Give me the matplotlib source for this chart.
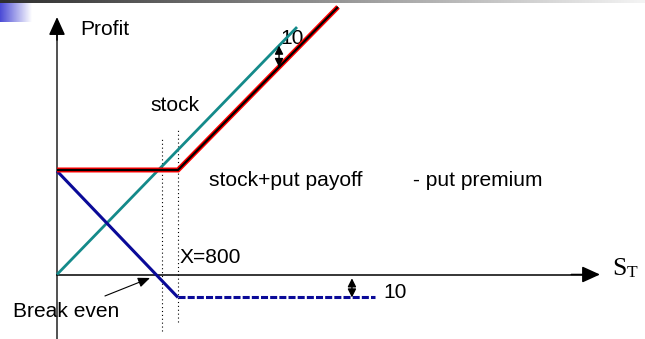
import matplotlib
matplotlib.use('Agg')
import matplotlib.pyplot as plt
import numpy as np
from matplotlib.colors import LinearSegmentedColormap

# ---- Data (schematic units, strike X = 800) ----
strike = 800
breakeven = 694
stock_S = [0, 1587]
stock_profit = [0, 1636]
protective_S = [0, 800, 1858]
protective_profit = [691, 691, 1769]
put_S = [0, 800]
put_profit = [684, -152]
put_flat_S = [800, 2102]
put_flat_profit = [-152, -152]
premium_label = "10"
premium_arrow_S = 1468
floor_arrow_S = 1950

labels = {
    "profit": "Profit",
    "stock": "stock",
    "combo": "stock+put payoff",
    "premium": "- put premium",
    "strike": "X=800",
    "breakeven": "Break even",
}

W, H = 645, 339
fig = plt.figure(figsize=(W / 100, H / 100), dpi=100)
deco = fig.add_axes([0, 0, 1, 1])
deco.set_xlim(0, W)
deco.set_ylim(H, 0)
deco.axis('off')

ax = fig.add_axes([0, 0, 1, 1], zorder=2)
ax.patch.set_alpha(0)
ax.axis('off')
k = 121 / 800
ox, oy = 57, 274.5
ax.set_xlim(-ox / k, (W - ox) / k)
ax.set_ylim(-(H - oy) / k, oy / k)

# header decoration
grad = np.linspace(0, 1, 256)[None, :]
deco.imshow(grad, cmap=LinearSegmentedColormap.from_list('g', ['#2e2e2e', '#f4f4f4']),
            extent=(0, W, 3.5, 0), aspect='auto', origin='upper')
deco.imshow(grad, cmap=LinearSegmentedColormap.from_list('b', ['#4a4ad6', '#ffffff']),
            extent=(0, 32, 22, 3.5), aspect='auto', origin='upper')
deco.set_xlim(0, W)
deco.set_ylim(H, 0)

ymin, ymax = ax.get_ylim()
# axes
ax.plot([0, 0], [ymin, 1650], color='#222222', lw=1.1, zorder=3)
ax.annotate('', xy=(0, 1702), xytext=(0, 1550),
            arrowprops=dict(arrowstyle='-|>,head_length=0.55,head_width=0.25', mutation_scale=20,
                            color='black', lw=1.1, shrinkA=0, shrinkB=0), zorder=3)
ax.plot([0, 3500], [0, 0], color='black', lw=1.1, zorder=3)
ax.annotate('', xy=(3590, 0), xytext=(3400, 0),
            arrowprops=dict(arrowstyle='-|>,head_length=0.55,head_width=0.25', mutation_scale=20,
                            color='black', lw=1.1, shrinkA=0, shrinkB=0), zorder=3)

# dotted verticals
ax.plot([breakeven, breakeven], [-374, 902], color='black', lw=0.8, ls=(0, (1, 2.5)), zorder=2)
ax.plot([strike, strike], [-314, 969], color='black', lw=0.8, ls=(0, (1, 2.5)), zorder=2)

# lines
ax.plot(stock_S, stock_profit, color='#148a8a', lw=2.0, zorder=4, solid_capstyle='butt')
ax.plot(put_S, put_profit, color='#0a0a98', lw=2.2, zorder=4, solid_capstyle='butt')
ax.plot(put_flat_S, put_flat_profit, color='#0a0a98', lw=2.2, ls=(0, (2.3, 0.7)), zorder=4)
ax.plot(protective_S, protective_profit, color='#ff0000', lw=3.6, zorder=5,
        solid_joinstyle='miter', solid_capstyle='butt')
ax.plot(protective_S, protective_profit, color='black', lw=1.6, zorder=6,
        solid_joinstyle='miter', solid_capstyle='butt')

# premium arrows
top_hi = np.interp(premium_arrow_S, stock_S, stock_profit)
top_lo = np.interp(premium_arrow_S, protective_S, protective_profit)
ax.annotate('', xy=(premium_arrow_S, top_hi), xytext=(premium_arrow_S, top_lo),
            arrowprops=dict(arrowstyle='<|-|>,head_length=0.5,head_width=0.25', mutation_scale=10,
                            color='black', lw=1, shrinkA=0, shrinkB=0), zorder=7)
ax.annotate('', xy=(floor_arrow_S, -25), xytext=(floor_arrow_S, put_flat_profit[0]),
            arrowprops=dict(arrowstyle='<|-|>,head_length=0.5,head_width=0.25', mutation_scale=10,
                            color='black', lw=1, shrinkA=0, shrinkB=0), zorder=7)
# break-even pointer
ax.annotate('', xy=(615, -23), xytext=(317, -142),
            arrowprops=dict(arrowstyle='-|>,head_length=0.6,head_width=0.25', mutation_scale=12,
                            color='black', lw=0.8, shrinkA=0, shrinkB=0), zorder=7)

# texts (pixel coordinates on deco axes)
fs = 15.1
font = 'Liberation Sans'
deco.text(80, 35, labels["profit"], fontsize=fs, family=font, va='baseline')
deco.text(280, 44, premium_label, fontsize=fs, family=font, va='baseline')
deco.text(150, 111, labels["stock"], fontsize=fs, family=font, va='baseline')
deco.text(209, 186, labels["combo"], fontsize=fs, family=font, va='baseline')
deco.text(413, 186, labels["premium"], fontsize=fs, family=font, va='baseline')
deco.text(180, 263, labels["strike"], fontsize=fs, family=font, va='baseline')
deco.text(13, 317, labels["breakeven"], fontsize=fs, family=font, va='baseline')
deco.text(383, 298, premium_label, fontsize=fs, family=font, va='baseline')
deco.text(612, 275, 'S', fontsize=18.5, family='Liberation Serif', va='baseline')
deco.text(627, 277, 'T', fontsize=12.5, family='Liberation Serif', va='baseline')

fig.savefig('out.png', dpi=100)
